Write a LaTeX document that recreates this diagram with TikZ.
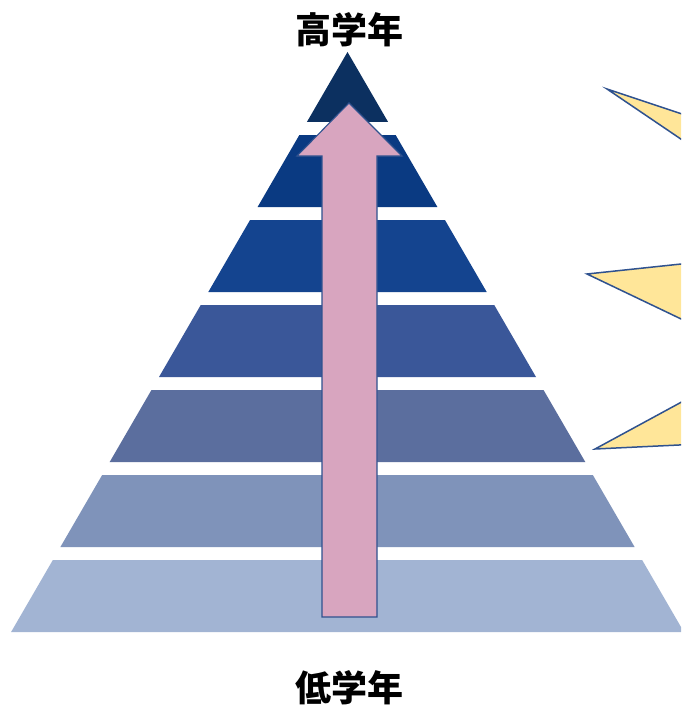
\documentclass[tikz,border=0pt]{standalone}
\usepackage{fontspec}
\newfontfamily\cjk{Noto Sans CJK JP}
\begin{document}
\begin{tikzpicture}[x=1pt,y=-1pt,
  layer/.style={fill=#1},
  callout/.style={fill=calloutfill,draw=edgeblue,line width=1.5pt,line join=miter},
  arrowshape/.style={fill=arrowpink,draw=edgeblue,line width=1.1pt},
  label/.style={font=\cjk\bfseries\fontsize{36}{38}\selectfont,text=black,inner sep=0pt}]
\definecolor{L1}{HTML}{0C3060}
\definecolor{L2}{HTML}{0A3A82}
\definecolor{L3}{HTML}{14448F}
\definecolor{L4}{HTML}{3A5799}
\definecolor{L5}{HTML}{5B6E9E}
\definecolor{L6}{HTML}{7F93BA}
\definecolor{L7}{HTML}{A2B4D3}
\definecolor{calloutfill}{HTML}{FFE699}
\definecolor{edgeblue}{HTML}{2F528F}
\definecolor{arrowpink}{HTML}{D8A5BF}
\useasboundingbox (0,0) rectangle (681,706);
\clip (0,0) rectangle (681,706);
\fill[white] (0,0) rectangle (681,706);
\def\ax{347.5}
\def\s{0.58}
% top triangle
\fill[L1] (\ax,52) -- ({\ax+\s*70},122) -- ({\ax-\s*70},122) -- cycle;
% trapezoid layers
\foreach \i/\c in {1/L2,2/L3,3/L4,4/L5,5/L6,6/L7}{
  \pgfmathsetmacro\t{135+85*(\i-1)}
  \pgfmathsetmacro\b{122+85*\i}
  \fill[\c] ({\ax-\s*(\t-52)},\t) -- ({\ax+\s*(\t-52)},\t) -- ({\ax+\s*(\b-52)},\b) -- ({\ax-\s*(\b-52)},\b) -- cycle;
}
% upward arrow
\draw[arrowshape] (349,103) -- (402,156) -- (377,156) -- (377,617) -- (322,617) -- (322,156) -- (297,156) -- cycle;
% callouts (their bodies lie beyond the right edge)
\draw[callout] (607,89) -- (700,120) -- (700,152) -- cycle;
\draw[callout] (587,274) -- (700,262) -- (700,328) -- cycle;
\draw[callout] (595,449) -- (700,392) -- (700,444) -- cycle;
% labels
\node[label] (top) at (349,30) {高学年};
\node[label] (bottom) at (349,688) {低学年};
\end{tikzpicture}
\end{document}
